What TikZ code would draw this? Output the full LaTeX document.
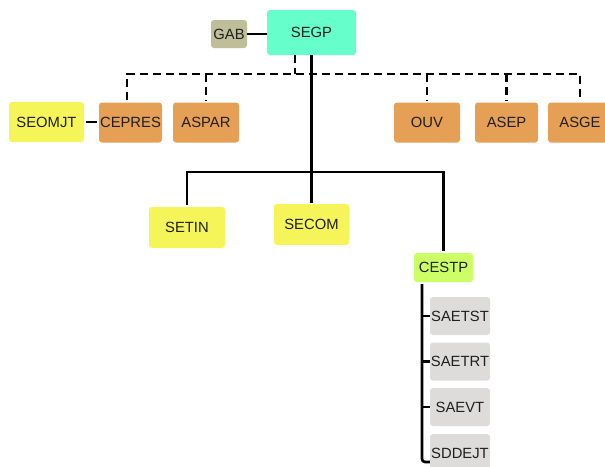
\documentclass[tikz,border=0pt]{standalone}
\usepackage{fontspec}
\setmainfont{Liberation Sans}
\usepackage{tikz}
\usetikzlibrary{positioning,calc}
\definecolor{segpc}{RGB}{102,255,204}
\definecolor{gabc}{RGB}{190,190,153}
\definecolor{orgc}{RGB}{230,160,85}
\definecolor{yelc}{RGB}{245,245,90}
\definecolor{grnc}{RGB}{204,255,102}
\definecolor{gryc}{RGB}{222,220,219}

\begin{document}
\begin{tikzpicture}[x=1pt,y=-1pt,
		unit/.style={rounded corners=3pt, inner sep=0pt, font=\fontsize{14.8}{16}\selectfont, text=black!88},
		solidl/.style={line width=2.6pt},
		dashl/.style={line width=2.6pt, dash pattern=on 8pt off 5pt}]
	\useasboundingbox (0,0) rectangle (605,466);
	\node[unit, fill=segpc, minimum width=89pt, minimum height=45pt] (SEGP) at (311.5,32.5) {SEGP};
	\node[unit, fill=gabc, minimum width=36pt, minimum height=28pt] (GAB) at (229,34) {GAB};
	% dashed row
	\node[unit, fill=yelc, minimum width=75pt, minimum height=40pt] (SEOMJT) at (46.5,122) {SEOMJT};
	\node[unit, fill=orgc, minimum width=63pt, minimum height=40pt] (CEPRES) at (130.5,122.5) {CEPRES};
	\node[unit, fill=orgc, minimum width=66pt, minimum height=40pt] (ASPAR) at (206,122.5) {ASPAR};
	\node[unit, fill=orgc, minimum width=66pt, minimum height=40pt] (OUV) at (427,122.5) {OUV};
	\node[unit, fill=orgc, minimum width=63pt, minimum height=40pt] (ASEP) at (506.5,122.5) {ASEP};
	\node[unit, fill=orgc, minimum width=64pt, minimum height=40pt] (ASGE) at (580,122.5) {ASGE};
	% solid row
	\node[unit, fill=yelc, minimum width=76pt, minimum height=41pt] (SETIN) at (187,227.5) {SETIN};
	\node[unit, fill=yelc, minimum width=75pt, minimum height=41pt] (SECOM) at (311.5,224.5) {SECOM};
	\node[unit, fill=grnc, minimum width=59pt, minimum height=29pt] (CESTP) at (443.5,267.5) {CESTP};
	\node[unit, fill=gryc, minimum width=60pt, minimum height=38pt] (SAETST) at (460,316) {SAETST};
	\node[unit, fill=gryc, minimum width=60pt, minimum height=38pt] (SAETRT) at (460,361.5) {SAETRT};
	\node[unit, fill=gryc, minimum width=60pt, minimum height=38pt] (SAEVT) at (460,407) {SAEVT};
	\node[unit, fill=gryc, minimum width=60pt, minimum height=38pt] (SDDEJT) at (460,453) {SDDEJT};

	\coordinate (bus) at (0,74);
	\coordinate (fork) at (0,172);
	\coordinate (spine) at (422,0);

	\draw[solidl] (GAB.east) -- (GAB.east -| SEGP.west);
	\draw[solidl, shorten >=2pt, shorten <=2pt] (SEOMJT.east) -- (SEOMJT.east -| CEPRES.west);
	\draw[dashl] ($(SEGP.south)+(-16.5,0)$) -- ++(0,19);
	\draw[dashl] ($(CEPRES.north)+(-3.5,-2)$) |- (ASGE.north |- bus) -- ($(ASGE.north)+(0,-2)$);
	\foreach \n in {ASPAR,OUV,ASEP}
		\draw[dashl] (\n.north |- bus) -- ($(\n.north)+(0,-2)$);
	\draw[solidl] (SEGP.south) -- ($(SECOM.north)+(0,-1)$);
	\draw[solidl] ($(SETIN.north)+(0,-2)$) |- (CESTP.north |- fork) -- ($(CESTP.north)+(0,-2)$);
	\draw[solidl, rounded corners=3pt] ($(CESTP.south -| spine)+(0,2)$) |- ($(SDDEJT.west)+(0,9)$);
	\foreach \n in {SAETST,SAETRT,SAEVT}
		\draw[solidl] (\n.west -| spine) -- (\n.west);
\end{tikzpicture}
\end{document}
